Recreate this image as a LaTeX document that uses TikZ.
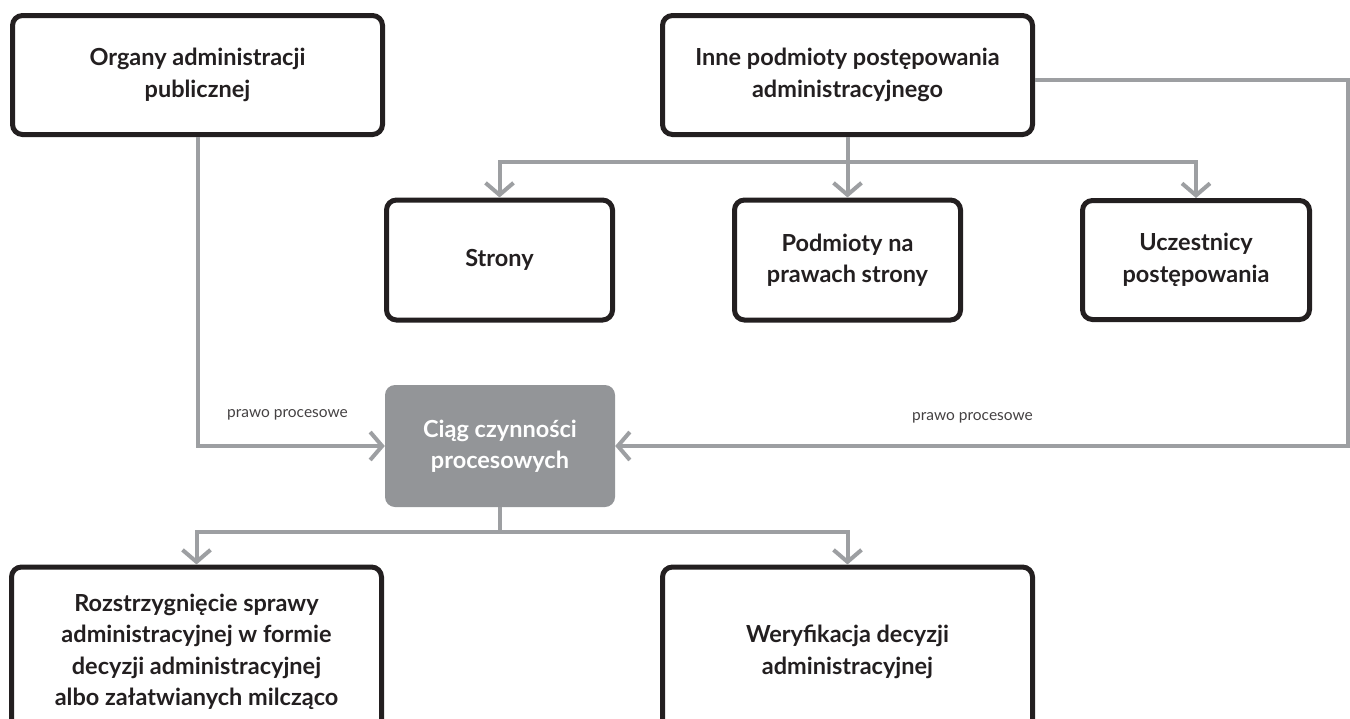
\documentclass[tikz,border=0pt]{standalone}
\usepackage{fontspec}
\setmainfont{Lato}
\usetikzlibrary{arrows.meta}
\definecolor{boxblack}{HTML}{231F20}
\definecolor{linegray}{HTML}{9D9FA2}
\definecolor{fillgray}{HTML}{939598}
\tikzset{
  box/.style={draw=boxblack, line width=5pt, rounded corners=10pt, fill=white,
    align=center, font=\fontsize{23.5}{31.5}\selectfont\bfseries, text=boxblack,
    inner sep=0pt},
  graybox/.style={fill=fillgray, rounded corners=10pt, align=center,
    font=\fontsize{23.5}{31.5}\selectfont\bfseries, text=white, inner sep=0pt},
  conn/.style={draw=linegray, line width=4pt},
  arr/.style={conn, -{Straight Barb[length=12pt,width=28pt]}},
  lab/.style={font=\fontsize{15.5}{18}\selectfont, text=boxblack!85, inner sep=0pt}
}
\begin{document}
\begin{tikzpicture}[x=1pt,y=-1pt]
\useasboundingbox (0,0) rectangle (1350,718);
% boxes
\node[box, minimum width=370pt, minimum height=119pt] (org) at (197.5,75) {Organy administracji\\publicznej};
\node[box, minimum width=370pt, minimum height=119pt] (inne) at (847.5,75) {Inne podmioty postępowania\\administracyjnego};
\node[box, minimum width=226pt, minimum height=120pt] (str) at (499.5,260) {Strony};
\node[box, minimum width=226pt, minimum height=120pt] (pod) at (847.5,260) {Podmioty na\\prawach strony};
\node[box, minimum width=227pt, minimum height=119pt] (ucz) at (1196,260) {Uczestnicy\\postępowania};
\node[graybox, minimum width=230pt, minimum height=122pt] (ciag) at (500,446) {Ciąg czynności\\procesowych};
\node[box, minimum width=370pt, minimum height=170pt] (roz) at (196.5,652) {Rozstrzygnięcie sprawy\\administracyjnej w formie\\decyzji administracyjnej\\albo załatwianych milcząco};
\node[box, minimum width=370pt, minimum height=170pt] (wer) at (847.5,652) {Weryfikacja decyzji\\administracyjnej};
% labels
\node[lab] (lab1) at (287.5,415) {prawo procesowe};
\node[lab] (lab2) at (972.5,418) {prawo procesowe};
% branch points
\coordinate (b1) at (847.5,162);
\coordinate (b2) at (500,532);
\coordinate (rc) at (1348,80);
% connectors
\draw[arr] (org.south) |- (ciag.west);
\draw[arr] (inne.south) -- (pod.north);
\draw[arr] (b1) -| (str.north);
\draw[arr] (b1) -| (ucz.north);
\draw[arr] (inne.east |- rc) -- (rc) |- (ciag.east);
\draw[conn] (ciag.south) -- (b2);
\draw[arr] (b2) -| (roz.north);
\draw[arr] (b2) -| (wer.north);
\end{tikzpicture}
\end{document}
